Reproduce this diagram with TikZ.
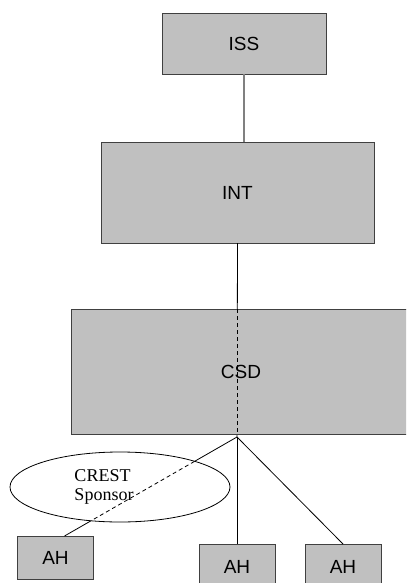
\documentclass[tikz,border=0pt]{standalone}
\usepackage{fontspec}
\setmainfont{Liberation Sans}
\newfontfamily\serifface{Liberation Serif}
\usetikzlibrary{shapes.geometric}
\definecolor{boxgray}{HTML}{C0C0C0}
\definecolor{edgegray}{HTML}{404040}

\begin{document}
\begin{tikzpicture}[x=1bp,y=-1bp,
    orgbox/.style={draw=edgegray,fill=boxgray,line width=0.9bp,inner sep=0pt,outer sep=0pt,
      font=\fontsize{19bp}{22bp}\selectfont},
    link/.style={draw=black,line width=0.8bp},
    hidden/.style={draw=black,line width=0.8bp,dash pattern=on 4bp off 3bp}]
        \useasboundingbox (0,0) rectangle (406,583);
        \clip (0,0) rectangle (406,583);
        % boxes of the chart
        \node[orgbox,minimum width=164bp,minimum height=61bp] (iss) at (244,43.5) {ISS};
        \node[orgbox,minimum width=273bp,minimum height=101bp] (int) at (237.5,192.5) {INT};
        \coordinate (j) at (237,437);
        \draw[link] (int.south) -- (j);
        \node[orgbox,minimum width=340bp,minimum height=125bp] (csd) at (241,371.5) {CSD};
        \draw[draw=gray,line width=1.2bp] (iss.south) -- (iss.south |- int.north);
        \draw[hidden] (j |- csd.north) -- (j |- csd.south);
        \node[orgbox,minimum width=76bp,minimum height=43bp] (ah1) at (55.5,557.5) {AH};
        \node[orgbox,minimum width=76bp,minimum height=46bp] (ah2) at (237,567) {AH};
        \node[orgbox,minimum width=76bp,minimum height=46bp] (ah3) at (343,567) {AH};
        \coordinate (ah1top) at ([xshift=9bp]ah1.north);
        \draw[link] (j) -- (ah1top);
        \draw[link] (j) -- (ah2.north);
        \draw[link] (j) -- (ah3.north);
        % sponsor ellipse over the left branch
        \node[ellipse,draw=black,fill=white,line width=0.8bp,inner sep=0pt,
          minimum width=220bp,minimum height=70bp] (crest) at (120,487) {};
        \node[font=\serifface\fontsize{18bp}{19bp}\selectfont,align=left,inner sep=0pt] (crestlbl) at (104,487) {CREST\\Sponsor};
        \begin{scope}
            \clip (crest.center) ellipse [x radius=110bp,y radius=35bp];
            \draw[hidden] (j) -- (ah1top);
        \end{scope}
        \end{tikzpicture}
\end{document}
